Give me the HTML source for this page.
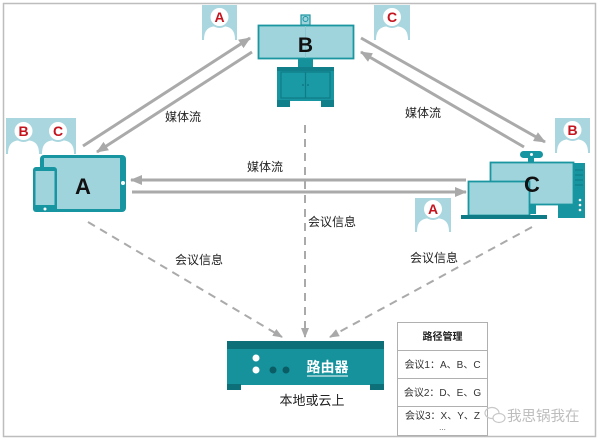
<!DOCTYPE html>
<html><head><meta charset="utf-8"><style>
html,body{margin:0;padding:0;background:#fff;}
svg{display:block;}
text{font-family:"Liberation Sans","Noto Sans CJK SC",sans-serif;}
</style></head><body>
<svg width="600" height="442" viewBox="0 0 600 442" xmlns="http://www.w3.org/2000/svg">
<defs>
<marker id="ah" markerUnits="userSpaceOnUse" markerWidth="12" markerHeight="10" refX="11" refY="5" orient="auto">
<path d="M0,0 L12,5 L0,10 z" fill="#a9a9a9"/>
</marker>
<marker id="ahd" markerUnits="userSpaceOnUse" markerWidth="10" markerHeight="8" refX="9" refY="4" orient="auto">
<path d="M0,0 L10,4 L0,8 z" fill="#a9a9a9"/>
</marker>
</defs>
<rect x="0" y="0" width="600" height="442" fill="#fff"/>
<rect x="3.5" y="3.5" width="592" height="433" fill="none" stroke="#bdbdbd" stroke-width="1.5"/>

<!-- solid media arrows -->
<g stroke="#aaaaaa" stroke-width="3" fill="none">
<line x1="83" y1="146" x2="250" y2="38" marker-end="url(#ah)"/>
<line x1="252" y1="52" x2="97" y2="152" marker-end="url(#ah)"/>
<line x1="361" y1="38" x2="545" y2="142" marker-end="url(#ah)"/>
<line x1="524" y1="147" x2="361" y2="52" marker-end="url(#ah)"/>
<line x1="466" y1="180" x2="131" y2="180" marker-end="url(#ah)"/>
<line x1="132" y1="192" x2="466" y2="192" marker-end="url(#ah)"/>
</g>
<!-- dashed arrows -->
<g stroke="#aaaaaa" stroke-width="2" fill="none" stroke-dasharray="8,6">
<line x1="88" y1="222" x2="282" y2="337" marker-end="url(#ahd)"/>
<line x1="305" y1="125" x2="305" y2="337" marker-end="url(#ahd)"/>
<line x1="532" y1="227" x2="330" y2="337" marker-end="url(#ahd)"/>
</g>

<!-- labels -->
<g font-size="12" fill="#222">
<text x="165" y="121">媒体流</text>
<text x="247" y="171">媒体流</text>
<text x="405" y="117">媒体流</text>
<text x="308" y="226">会议信息</text>
<text x="175" y="264">会议信息</text>
<text x="410" y="262">会议信息</text>
</g>

<!-- Badges -->
<g>
<!-- top A -->
<rect x="202" y="5" width="35" height="35" fill="#a9d6df"/>
<path d="M204,40 C204,29 209,26 219.5,26 C230,26 235,29 235,40 Z" fill="#fff"/>
<circle cx="219.5" cy="17" r="10" fill="#fff" stroke="#a9d6df" stroke-width="2"/>
<text x="219.5" y="22" font-size="14" font-weight="bold" fill="#c4141e" text-anchor="middle">A</text>
<!-- top C -->
<rect x="374" y="5" width="36" height="35" fill="#a9d6df"/>
<path d="M376,40 C376,29 381,26 392,26 C403,26 408,29 408,40 Z" fill="#fff"/>
<circle cx="392" cy="17" r="10" fill="#fff" stroke="#a9d6df" stroke-width="2"/>
<text x="392" y="22" font-size="14" font-weight="bold" fill="#c4141e" text-anchor="middle">C</text>
<!-- left BC -->
<rect x="6" y="118" width="70" height="36" fill="#a9d6df"/>
<path d="M8,154 C8,143 13,140 23.5,140 C34,140 39,143 39,154 Z" fill="#fff"/>
<path d="M42,154 C42,143 47,140 58,140 C69,140 74,143 74,154 Z" fill="#fff"/>
<circle cx="23.5" cy="131" r="10" fill="#fff" stroke="#a9d6df" stroke-width="2"/>
<circle cx="58" cy="131" r="10" fill="#fff" stroke="#a9d6df" stroke-width="2"/>
<text x="23.5" y="136" font-size="14" font-weight="bold" fill="#c4141e" text-anchor="middle">B</text>
<text x="58" y="136" font-size="14" font-weight="bold" fill="#c4141e" text-anchor="middle">C</text>
<!-- right B -->
<rect x="555" y="118" width="35" height="35" fill="#a9d6df"/>
<path d="M557,153 C557,142 562,139 572.5,139 C583,139 588,142 588,153 Z" fill="#fff"/>
<circle cx="572.5" cy="130" r="10" fill="#fff" stroke="#a9d6df" stroke-width="2"/>
<text x="572.5" y="135" font-size="14" font-weight="bold" fill="#c4141e" text-anchor="middle">B</text>
<!-- lower A -->
<rect x="415" y="198" width="36" height="34" fill="#a9d6df"/>
<path d="M417,232 C417,221 422,218 433,218 C444,218 449,221 449,232 Z" fill="#fff"/>
<circle cx="433" cy="209" r="10" fill="#fff" stroke="#a9d6df" stroke-width="2"/>
<text x="433" y="214" font-size="14" font-weight="bold" fill="#c4141e" text-anchor="middle">A</text>
</g>

<!-- Device B -->
<g>
<rect x="301" y="15" width="9" height="10" fill="#a0d4dd" stroke="#1a96a1" stroke-width="1.2"/>
<circle cx="305.5" cy="19" r="2.5" fill="none" stroke="#1a96a1" stroke-width="1"/>
<rect x="298" y="57" width="15" height="11" fill="#15919b"/>
<rect x="277" y="67" width="57" height="34" fill="#1795a0"/>
<rect x="277" y="67" width="57" height="4" fill="#117f89"/>
<rect x="281" y="72" width="49" height="26" fill="#1a9aa5" stroke="#0f7b86" stroke-width="1.2"/>
<line x1="305.5" y1="72" x2="305.5" y2="98" stroke="#0f7b86" stroke-width="1.2"/>
<circle cx="303" cy="85" r="1" fill="#0f7b86"/>
<circle cx="308" cy="85" r="1" fill="#0f7b86"/>
<rect x="277" y="100" width="13" height="7" fill="#117f89"/>
<rect x="321" y="100" width="13" height="7" fill="#117f89"/>
<rect x="258.5" y="25.5" width="95" height="33" fill="#a0d4dd" stroke="#1a96a1" stroke-width="1.8"/>
<line x1="305.5" y1="26" x2="305.5" y2="58" stroke="#8cc8d2" stroke-width="1"/>
<text x="305.5" y="52" font-size="21" font-weight="bold" fill="#111" text-anchor="middle">B</text>
</g>

<!-- Device A -->
<g>
<rect x="40" y="155" width="86" height="57" rx="4" fill="#1795a0"/>
<rect x="44" y="158" width="76" height="51" fill="#a0d4dd"/>
<circle cx="123" cy="183" r="2" fill="#fff"/>
<rect x="33" y="167" width="24" height="45" rx="3" fill="#1795a0"/>
<rect x="35.5" y="171" width="19" height="34" fill="#a0d4dd"/>
<circle cx="45" cy="209" r="1.5" fill="#fff"/>
<text x="83" y="194" font-size="22" font-weight="bold" fill="#111" text-anchor="middle">A</text>
</g>

<!-- Device C -->
<g>
<rect x="558" y="163" width="27" height="55" fill="#1795a0"/>
<line x1="575" y1="170" x2="583" y2="170" stroke="#0f7b86" stroke-width="1"/>
<line x1="575" y1="175" x2="583" y2="175" stroke="#0f7b86" stroke-width="1"/>
<line x1="575" y1="180" x2="583" y2="180" stroke="#0f7b86" stroke-width="1"/>
<line x1="575" y1="185" x2="583" y2="185" stroke="#0f7b86" stroke-width="1"/>
<circle cx="580" cy="200" r="1.3" fill="#fff"/>
<circle cx="580" cy="205" r="1.3" fill="#fff"/>
<circle cx="580" cy="210" r="1.3" fill="#fff"/>
<rect x="528" y="157" width="6" height="5" fill="#1795a0"/>
<rect x="520" y="151" width="23" height="7" rx="3.5" fill="#1795a0"/>
<circle cx="531.5" cy="154.5" r="1.5" fill="#fff"/>
<rect x="528" y="204" width="8" height="10" fill="#1795a0"/>
<rect x="490.5" y="162.5" width="83" height="42" fill="#a0d4dd" stroke="#1a96a1" stroke-width="1.8"/>
<rect x="468.5" y="181.5" width="61" height="34" fill="#a0d4dd" stroke="#1a96a1" stroke-width="1.8"/>
<rect x="461" y="215" width="86" height="4" fill="#0f7b86"/>
<text x="532" y="192" font-size="22" font-weight="bold" fill="#111" text-anchor="middle">C</text>
</g>

<!-- Router -->
<g>
<rect x="227" y="341" width="157" height="44" fill="#15929c"/>
<rect x="227" y="341" width="157" height="8" fill="#0d6f78"/>
<rect x="227" y="384" width="14" height="6" fill="#0d6f78"/>
<rect x="370" y="384" width="14" height="6" fill="#0d6f78"/>
<circle cx="256" cy="358" r="3.5" fill="#fff"/>
<circle cx="256" cy="370" r="3.5" fill="#fff"/>
<circle cx="273" cy="370" r="3.5" fill="#0b5d65"/>
<circle cx="286" cy="370" r="3.5" fill="#0b5d65"/>
<text x="327.5" y="372" font-size="14" font-weight="bold" fill="#fff" text-anchor="middle">路由器</text>
<line x1="307" y1="376" x2="348" y2="376" stroke="#fff" stroke-width="1"/>
<text x="312" y="405" font-size="13" fill="#222" text-anchor="middle">本地或云上</text>
</g>

<!-- Table -->
<g>
<rect x="397.5" y="322.5" width="90" height="113" fill="#fff" stroke="#b0b0b0" stroke-width="1"/>
<line x1="397.5" y1="350.5" x2="487.5" y2="350.5" stroke="#b0b0b0" stroke-width="1"/>
<line x1="397.5" y1="378.5" x2="487.5" y2="378.5" stroke="#b0b0b0" stroke-width="1"/>
<line x1="397.5" y1="406.5" x2="487.5" y2="406.5" stroke="#b0b0b0" stroke-width="1"/>
<text x="442.5" y="340" font-size="10" font-weight="bold" fill="#222" text-anchor="middle">路径管理</text>
<text x="442.5" y="368" font-size="10" fill="#333" text-anchor="middle">会议1：A、B、C</text>
<text x="442.5" y="396" font-size="10" fill="#333" text-anchor="middle">会议2：D、E、G</text>
<text x="442.5" y="419" font-size="10" fill="#333" text-anchor="middle">会议3：X、Y、Z</text>
<text x="442.5" y="430" font-size="8" fill="#555" text-anchor="middle">...</text>
</g>

<!-- watermark -->
<g fill="none" stroke="#c8c8c8" stroke-width="1.2">
<ellipse cx="492" cy="413" rx="7" ry="5.5"/>
<ellipse cx="499" cy="418" rx="6" ry="4.5" fill="#fff"/>
</g>
<text x="507" y="421" font-size="14.5" fill="#bdbdbd">我思锅我在</text>
</svg>
</body></html>
